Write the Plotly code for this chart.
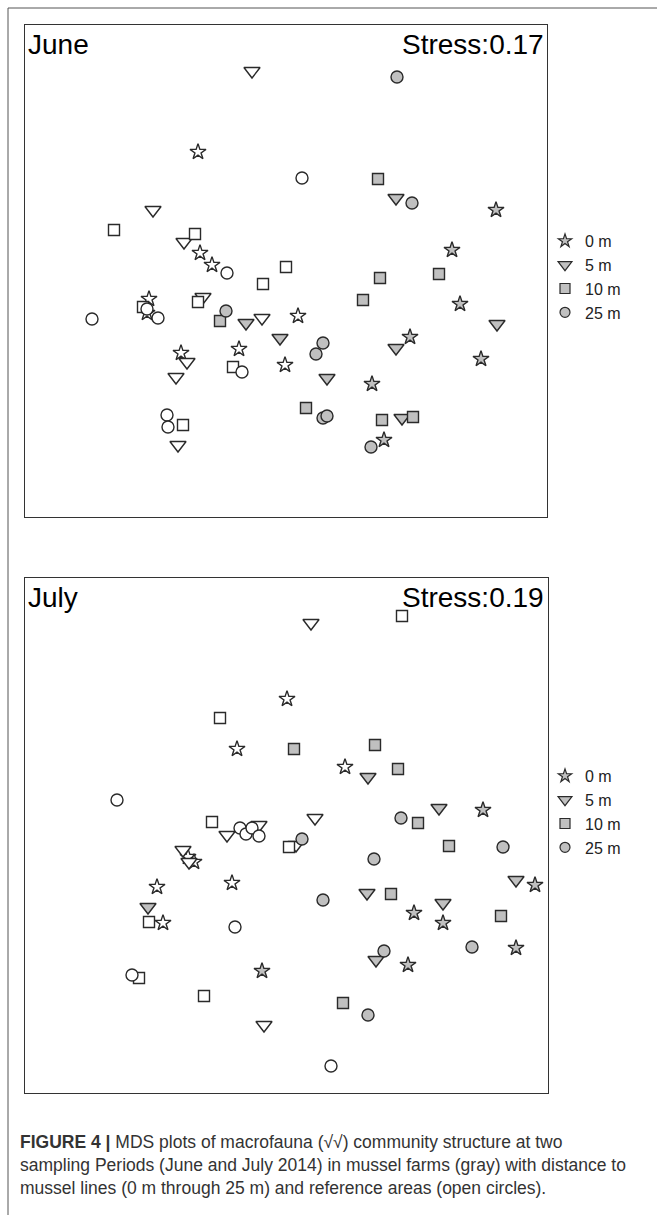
import plotly.graph_objects as go

W, H = 657, 1215

# ---------------- June (arbitrary MDS units) ----------------
june_x = [198, 200, 212, 149, 147, 298, 181, 239, 285,          # 0 m ref
          496, 452, 460, 410, 481, 372, 384,                    # 0 m farm
          252, 153, 184, 203, 262, 187, 176, 178,               # 5 m ref
          396, 246, 497, 280, 396, 327, 402,                    # 5 m farm
          114, 195, 286, 263, 143, 198, 233, 183,               # 10 m ref
          378, 380, 439, 363, 220, 306, 382, 413,               # 10 m farm
          302, 227, 147, 158, 92, 242, 167, 168,                # 25 m ref
          397, 412, 226, 323, 316, 323, 327, 371]               # 25 m farm
june_y = [152, 253, 265, 299, 313, 316, 353, 349, 365,
          210, 250, 304, 337, 359, 384, 440,
          71, 210, 242, 297, 318, 362, 377, 445,
          198, 323, 324, 338, 348, 378, 418,
          230, 234, 267, 284, 307, 302, 367, 425,
          179, 278, 274, 300, 321, 408, 420, 417,
          178, 273, 309, 318, 319, 372, 415, 427,
          77, 203, 311, 343, 354, 418, 416, 447]
june_dist = (["0 m"] * 16) + (["5 m"] * 15) + (["10 m"] * 16) + (["25 m"] * 16)
june_site = (["ref"] * 9 + ["farm"] * 7 + ["ref"] * 8 + ["farm"] * 7 +
             ["ref"] * 8 + ["farm"] * 8 + ["ref"] * 8 + ["farm"] * 8)

# ---------------- July ----------------
july_x = [287, 237, 345, 188, 194, 157, 232, 163,               # 0 m ref
          483, 535, 414, 443, 516, 408, 262,                    # 0 m farm
          311, 315, 227, 259, 296, 183, 189, 264,               # 5 m ref
          368, 439, 516, 367, 443, 148, 376,                    # 5 m farm
          402, 220, 212, 289, 149, 139, 204,                    # 10 m ref
          294, 375, 398, 418, 449, 391, 501, 343,               # 10 m farm
          117, 240, 246, 252, 259, 235, 132, 331,               # 25 m ref
          302, 401, 503, 374, 323, 472, 384, 368]               # 25 m farm
july_y = [699, 749, 767, 857, 862, 887, 883, 923,
          810, 885, 913, 923, 948, 965, 971,
          623, 818, 835, 825, 845, 850, 862, 1025,
          777, 808, 880, 893, 903, 907, 960,
          616, 718, 822, 847, 922, 978, 996,
          749, 745, 769, 823, 846, 894, 916, 1003,
          800, 828, 834, 828, 836, 927, 975, 1066,
          839, 818, 847, 859, 900, 947, 951, 1015]
july_dist = (["0 m"] * 15) + (["5 m"] * 15) + (["10 m"] * 15) + (["25 m"] * 16)
july_site = (["ref"] * 8 + ["farm"] * 7 + ["ref"] * 8 + ["farm"] * 7 +
             ["ref"] * 7 + ["farm"] * 8 + ["ref"] * 8 + ["farm"] * 8)

dist_levels = ["0 m", "5 m", "10 m", "25 m"]
symbols = {"0 m": "star", "5 m": "triangle-down", "10 m": "square", "25 m": "circle"}
sizes = {"0 m": 12, "5 m": 14, "10 m": 11, "25 m": 12}
fills = {"farm": "#c0c0c0", "ref": "#ffffff"}
EDGE = "#2a2a2a"

FONT = "Liberation Sans, Arial, sans-serif"

fig = go.Figure()

panels = [
    ("x", "y", june_x, june_y, june_dist, june_site),
    ("x2", "y2", july_x, july_y, july_dist, july_site),
]
for xa, ya, xs, ys, ds, ss in panels:
    for d in dist_levels:
        for s in ["ref", "farm"]:
            px = [xv for xv, dv, sv in zip(xs, ds, ss) if dv == d and sv == s]
            py = [yv for yv, dv, sv in zip(ys, ds, ss) if dv == d and sv == s]
            fig.add_trace(go.Scatter(
                x=px, y=py, mode="markers", xaxis=xa, yaxis=ya, showlegend=False,
                marker=dict(symbol=symbols[d], size=sizes[d], color=fills[s],
                            line=dict(color=EDGE, width=1.4)),
                hoverinfo="skip"))

# legend entries (one legend per panel)
for lg, xa, ya in [("legend", "x", "y"), ("legend2", "x2", "y2")]:
    for d in dist_levels:
        fig.add_trace(go.Scatter(
            x=[None], y=[None], mode="markers", xaxis=xa, yaxis=ya, name=d,
            legend=lg, showlegend=True,
            marker=dict(symbol=symbols[d], size=10 if d != "5 m" else 12, color="#c0c0c0",
                        line=dict(color=EDGE, width=1.2))))

def px2paper_y(py):
    return 1 - py / H

P1 = (25, 547, 25, 517)
P2 = (25, 548, 578, 1093)

axis_common = dict(showgrid=False, zeroline=False, showticklabels=False, ticks="",
                   showline=True, linecolor="#333333", linewidth=1, mirror=True)

fig.update_layout(
    width=W, height=H, margin=dict(l=0, r=0, t=0, b=0),
    paper_bgcolor="white", plot_bgcolor="white",
    font=dict(family=FONT, color="#111111"),
    xaxis=dict(domain=[P1[0] / W, P1[1] / W], range=[P1[0], P1[1]], anchor="y", **axis_common),
    yaxis=dict(domain=[px2paper_y(P1[3]), px2paper_y(P1[2])], range=[P1[3], P1[2]], anchor="x", **axis_common),
    xaxis2=dict(domain=[P2[0] / W, P2[1] / W], range=[P2[0], P2[1]], anchor="y2", **axis_common),
    yaxis2=dict(domain=[px2paper_y(P2[3]), px2paper_y(P2[2])], range=[P2[3], P2[2]], anchor="x2", **axis_common),
    legend=dict(x=545 / W, y=px2paper_y(224), xanchor="left", yanchor="top",
                font=dict(size=16, family=FONT, color="#222222"), bgcolor="rgba(0,0,0,0)",
                itemclick=False, itemdoubleclick=False),
    legend2=dict(x=545 / W, y=px2paper_y(759), xanchor="left", yanchor="top",
                 font=dict(size=16, family=FONT, color="#222222"), bgcolor="rgba(0,0,0,0)",
                 itemclick=False, itemdoubleclick=False),
)

annotations = [
    dict(text="June", x=26 / W, y=px2paper_y(27), xanchor="left", yanchor="top"),
    dict(text="Stress:0.17", x=546 / W, y=px2paper_y(27), xanchor="right", yanchor="top"),
    dict(text="July", x=26 / W, y=px2paper_y(580), xanchor="left", yanchor="top"),
    dict(text="Stress:0.19", x=546 / W, y=px2paper_y(580), xanchor="right", yanchor="top"),
]
for a in annotations:
    a.update(xref="paper", yref="paper", showarrow=False,
             font=dict(size=28, family=FONT, color="#000000"))
    fig.add_annotation(**a)

caption = [
    "<b>FIGURE 4 |</b> MDS plots of macrofauna (\u221A\u221A) community structure at two",
    "sampling Periods (June and July 2014) in mussel farms (gray) with distance to",
    "mussel lines (0 m through 25 m) and reference areas (open circles).",
]
for i, line in enumerate(caption):
    fig.add_annotation(text=line, x=18 / W, y=px2paper_y(1142 + 23 * i), xref="paper", yref="paper",
                       xanchor="left", yanchor="middle", showarrow=False,
                       font=dict(size=17.5, family=FONT, color="#333333"))

# outer figure frame (left and top edges)
fig.add_shape(type="line", xref="paper", yref="paper", x0=8 / W, x1=8 / W, y0=0, y1=px2paper_y(8),
              line=dict(color="#555555", width=1))
fig.add_shape(type="line", xref="paper", yref="paper", x0=8 / W, x1=1, y0=px2paper_y(8), y1=px2paper_y(8),
              line=dict(color="#555555", width=1))

fig.write_html("out.html", config={"displayModeBar": False},
               post_script="document.body.style.margin='0';document.body.style.overflow='hidden';")
